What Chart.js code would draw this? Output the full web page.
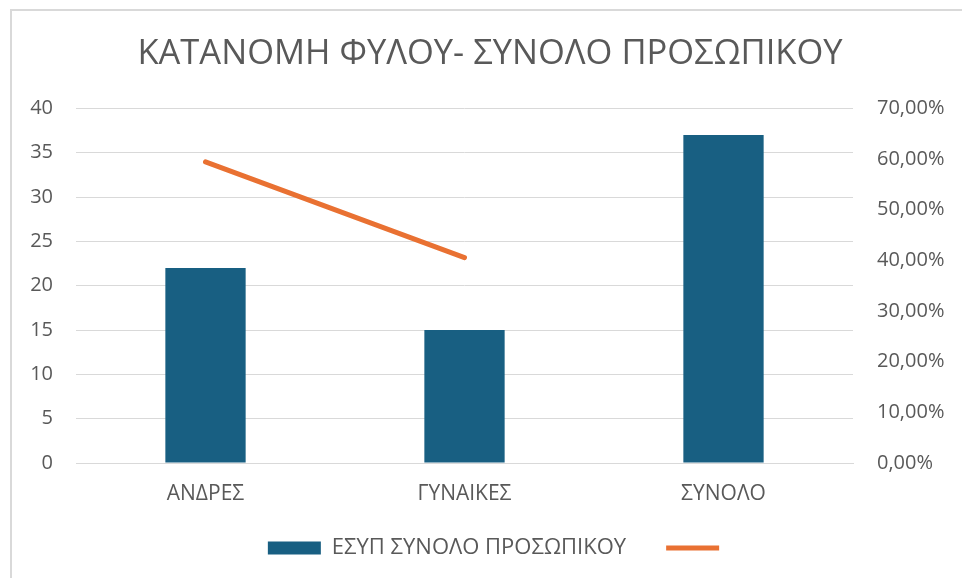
<!DOCTYPE html>
<html>
<head>
<meta charset="utf-8">
<script src="https://cdn.jsdelivr.net/npm/chart.js@4/dist/chart.umd.min.js"></script>
<style>
  html, body { margin: 0; padding: 0; background: #fff; overflow: hidden; }
  #frame { position: absolute; left: 10px; top: 9px; width: 1000px; height: 620px; border: 2px solid #d9d9d9; }
  #wrap { position: absolute; left: 0; top: 0; width: 962px; height: 578px; }
</style>
</head>
<body>
<div id="frame"></div>
<div id="wrap"><canvas id="chart" width="962" height="578"></canvas></div>
<script>
// data
const categories = ['ΑΝΔΡΕΣ', 'ΓΥΝΑΙΚΕΣ', 'ΣΥΝΟΛΟ'];
const staffCounts = [22, 15, 37];
const sharePct = [0.5946, 0.4054, null];
const leftTicks = [0, 5, 10, 15, 20, 25, 30, 35, 40];
const rightTicks = [0, 0.1, 0.2, 0.3, 0.4, 0.5, 0.6, 0.7];

const grey = '#595959';
const fontFam = '"Open Sans", "DejaVu Sans", sans-serif';

function pctLabel(v) {
    return (v * 100).toFixed(2).replace('.', ',') + '%';
}

// title and legend sit centred on the framed box, not on the canvas
const nudge = {
    id: 'nudge',
    afterLayout(chart) {
        const t = chart.titleBlock;
        t.left += 9; t.right += 9;
        const l = chart.legend;
        l.left += 18; l.right += 18;
        l.top -= 9; l.bottom -= 9;
    }
};

new Chart(document.getElementById('chart'), {
    data: {
        labels: categories,
        datasets: [{
            type: 'line',
            label: '',
            data: sharePct,
            yAxisID: 'yR',
            borderColor: '#E97132',
            backgroundColor: '#E97132',
            borderWidth: 5,
            borderCapStyle: 'round',
            pointRadius: 0,
            pointStyle: 'line',
            order: 1
        }, {
            type: 'bar',
            label: 'ΕΣΥΠ ΣΥΝΟΛΟ ΠΡΟΣΩΠΙΚΟΥ',
            data: staffCounts,
            yAxisID: 'y',
            backgroundColor: '#185F82',
            borderWidth: 0,
            barPercentage: 0.31,
            categoryPercentage: 1,
            pointStyle: 'rect',
            order: 2
        }]
    },
    options: {
        responsive: false,
        animation: false,
        layout: { padding: { left: 0, right: 0, top: 0, bottom: 0 } },
        plugins: {
            title: {
                display: true,
                text: 'ΚΑΤΑΝΟΜΗ ΦΥΛΟΥ- ΣΥΝΟΛΟ ΠΡΟΣΩΠΙΚΟΥ',
                color: grey,
                font: { family: fontFam, size: 34.5, weight: 'normal' },
                padding: { top: 33, bottom: 34 }
            },
            legend: {
                position: 'bottom',
                reverse: true,
                labels: {
                    usePointStyle: true,
                    pointStyleWidth: 53,
                    boxHeight: 13,
                    padding: 40,
                    color: grey,
                    font: { family: fontFam, size: 22 }
                }
            },
            tooltip: { enabled: false }
        },
        scales: {
            x: {
                offset: true,
                afterFit: s => { s.height = 43; },
                grid: { display: false, drawTicks: false },
                border: { display: true, color: '#d9d9d9', width: 1 },
                ticks: { color: grey, padding: 18, font: { family: fontFam, size: 21 } }
            },
            y: {
                position: 'left',
                min: 0,
                max: 40,
                afterFit: s => { s.width = 76; },
                afterBuildTicks: s => { s.ticks = leftTicks.map(v => ({ value: v })); },
                grid: { color: '#d9d9d9', drawTicks: false },
                border: { display: false },
                ticks: { color: grey, padding: 23, font: { family: fontFam, size: 20 } }
            },
            yR: {
                position: 'right',
                min: 0,
                max: 0.7,
                afterFit: s => { s.width = 109; },
                afterBuildTicks: s => { s.ticks = rightTicks.map(v => ({ value: v })); },
                grid: { display: false, drawTicks: false },
                border: { display: false },
                ticks: {
                    color: grey,
                    padding: 24,
                    font: { family: fontFam, size: 20 },
                    callback: v => pctLabel(v)
                }
            }
        }
    },
    plugins: [nudge]
});
</script>
</body>
</html>
